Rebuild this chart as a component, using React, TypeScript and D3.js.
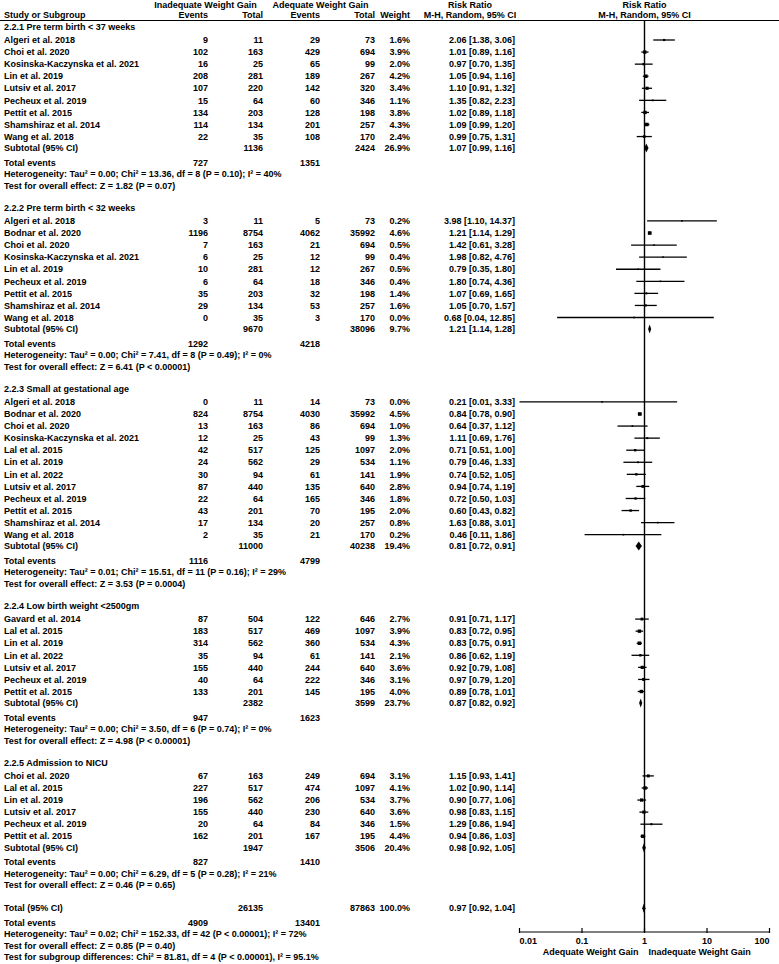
import React from 'react';
import * as d3 from 'd3';

// [study, events IWG, total IWG, events AWG, total AWG, weight %, RR, lower, upper]
type Row = [string, number, number, number, number, number, number, number, number];

const groupTitles = [
  '2.2.1 Pre term birth < 37 weeks',
  '2.2.2 Pre term birth < 32 weeks',
  '2.2.3 Small at gestational age',
  '2.2.4 Low birth weight <2500gm',
  '2.2.5 Admission to NICU',
];

const g1Rows: Row[] = [
  ['Algeri et al. 2018', 9, 11, 29, 73, 1.6, 2.06, 1.38, 3.06],
  ['Choi et al. 2020', 102, 163, 429, 694, 3.9, 1.01, 0.89, 1.16],
  ['Kosinska-Kaczynska et al. 2021', 16, 25, 65, 99, 2.0, 0.97, 0.70, 1.35],
  ['Lin et al. 2019', 208, 281, 189, 267, 4.2, 1.05, 0.94, 1.16],
  ['Lutsiv et al. 2017', 107, 220, 142, 320, 3.4, 1.10, 0.91, 1.32],
  ['Pecheux et al. 2019', 15, 64, 60, 346, 1.1, 1.35, 0.82, 2.23],
  ['Pettit et al. 2015', 134, 203, 128, 198, 3.8, 1.02, 0.89, 1.18],
  ['Shamshiraz et al. 2014', 114, 134, 201, 257, 4.3, 1.09, 0.99, 1.20],
  ['Wang et al. 2018', 22, 35, 108, 170, 2.4, 0.99, 0.75, 1.31],
];

const g2Rows: Row[] = [
  ['Algeri et al. 2018', 3, 11, 5, 73, 0.2, 3.98, 1.10, 14.37],
  ['Bodnar et al. 2020', 1196, 8754, 4062, 35992, 4.6, 1.21, 1.14, 1.29],
  ['Choi et al. 2020', 7, 163, 21, 694, 0.5, 1.42, 0.61, 3.28],
  ['Kosinska-Kaczynska et al. 2021', 6, 25, 12, 99, 0.4, 1.98, 0.82, 4.76],
  ['Lin et al. 2019', 10, 281, 12, 267, 0.5, 0.79, 0.35, 1.80],
  ['Pecheux et al. 2019', 6, 64, 18, 346, 0.4, 1.80, 0.74, 4.36],
  ['Pettit et al. 2015', 35, 203, 32, 198, 1.4, 1.07, 0.69, 1.65],
  ['Shamshiraz et al. 2014', 29, 134, 53, 257, 1.6, 1.05, 0.70, 1.57],
  ['Wang et al. 2018', 0, 35, 3, 170, 0.0, 0.68, 0.04, 12.85],
];

const g3Rows: Row[] = [
  ['Algeri et al. 2018', 0, 11, 14, 73, 0.0, 0.21, 0.01, 3.33],
  ['Bodnar et al. 2020', 824, 8754, 4030, 35992, 4.5, 0.84, 0.78, 0.90],
  ['Choi et al. 2020', 13, 163, 86, 694, 1.0, 0.64, 0.37, 1.12],
  ['Kosinska-Kaczynska et al. 2021', 12, 25, 43, 99, 1.3, 1.11, 0.69, 1.76],
  ['Lal et al. 2015', 42, 517, 125, 1097, 2.0, 0.71, 0.51, 1.00],
  ['Lin et al. 2019', 24, 562, 29, 534, 1.1, 0.79, 0.46, 1.33],
  ['Lin et al. 2022', 30, 94, 61, 141, 1.9, 0.74, 0.52, 1.05],
  ['Lutsiv et al. 2017', 87, 440, 135, 640, 2.8, 0.94, 0.74, 1.19],
  ['Pecheux et al. 2019', 22, 64, 165, 346, 1.8, 0.72, 0.50, 1.03],
  ['Pettit et al. 2015', 43, 201, 70, 195, 2.0, 0.60, 0.43, 0.82],
  ['Shamshiraz et al. 2014', 17, 134, 20, 257, 0.8, 1.63, 0.88, 3.01],
  ['Wang et al. 2018', 2, 35, 21, 170, 0.2, 0.46, 0.11, 1.86],
];

const g4Rows: Row[] = [
  ['Gavard et al. 2014', 87, 504, 122, 646, 2.7, 0.91, 0.71, 1.17],
  ['Lal et al. 2015', 183, 517, 469, 1097, 3.9, 0.83, 0.72, 0.95],
  ['Lin et al. 2019', 314, 562, 360, 534, 4.3, 0.83, 0.75, 0.91],
  ['Lin et al. 2022', 35, 94, 61, 141, 2.1, 0.86, 0.62, 1.19],
  ['Lutsiv et al. 2017', 155, 440, 244, 640, 3.6, 0.92, 0.79, 1.08],
  ['Pecheux et al. 2019', 40, 64, 222, 346, 3.1, 0.97, 0.79, 1.20],
  ['Pettit et al. 2015', 133, 201, 145, 195, 4.0, 0.89, 0.78, 1.01],
];

const g5Rows: Row[] = [
  ['Choi et al. 2020', 67, 163, 249, 694, 3.1, 1.15, 0.93, 1.41],
  ['Lal et al. 2015', 227, 517, 474, 1097, 4.1, 1.02, 0.90, 1.14],
  ['Lin et al. 2019', 196, 562, 206, 534, 3.7, 0.90, 0.77, 1.06],
  ['Lutsiv et al. 2017', 155, 440, 230, 640, 3.6, 0.98, 0.83, 1.15],
  ['Pecheux et al. 2019', 20, 64, 84, 346, 1.5, 1.29, 0.86, 1.94],
  ['Pettit et al. 2015', 162, 201, 167, 195, 4.4, 0.94, 0.86, 1.03],
];

const groupRows = [g1Rows, g2Rows, g3Rows, g4Rows, g5Rows];

// [total IWG, total AWG, weight, RR, lower, upper]
const subtotals = [
  [1136, 2424, 26.9, 1.07, 0.99, 1.16],
  [9670, 38096, 9.7, 1.21, 1.14, 1.28],
  [11000, 40238, 19.4, 0.81, 0.72, 0.91],
  [2382, 3599, 23.7, 0.87, 0.82, 0.92],
  [1947, 3506, 20.4, 0.98, 0.92, 1.05],
];

const totalEvents = [
  [727, 1351],
  [1292, 4218],
  [1116, 4799],
  [947, 1623],
  [827, 1410],
];

const hetTexts = [
  'Heterogeneity: Tau² = 0.00; Chi² = 13.36, df = 8 (P = 0.10); I² = 40%',
  'Heterogeneity: Tau² = 0.00; Chi² = 7.41, df = 8 (P = 0.49); I² = 0%',
  'Heterogeneity: Tau² = 0.01; Chi² = 15.51, df = 11 (P = 0.16); I² = 29%',
  'Heterogeneity: Tau² = 0.00; Chi² = 3.50, df = 6 (P = 0.74); I² = 0%',
  'Heterogeneity: Tau² = 0.00; Chi² = 6.29, df = 5 (P = 0.28); I² = 21%',
];

const effectTexts = [
  'Test for overall effect: Z = 1.82 (P = 0.07)',
  'Test for overall effect: Z = 6.41 (P < 0.00001)',
  'Test for overall effect: Z = 3.53 (P = 0.0004)',
  'Test for overall effect: Z = 4.98 (P < 0.00001)',
  'Test for overall effect: Z = 0.46 (P = 0.65)',
];

const overall = [26135, 87863, 100.0, 0.97, 0.92, 1.04];
const overallEvents = [4909, 13401];
const overallHet = 'Heterogeneity: Tau² = 0.02; Chi² = 152.33, df = 42 (P < 0.00001); I² = 72%';
const overallEffect = 'Test for overall effect: Z = 0.85 (P = 0.40)';
const subgroupTest = 'Test for subgroup differences: Chi² = 81.81, df = 4 (P < 0.00001), I² = 95.1%';

const axisTicks = [0.01, 0.1, 1, 10, 100];

const W = 779;
const H = 964;
const FS = 9;
const FONT = '"Liberation Sans", Arial, sans-serif';

const colE1 = 208;
const colN1 = 263;
const colE2 = 320;
const colN2 = 375;
const colW = 410;
const colCI = 515;
const axisY = 932;

const fmtCI = (rr: number, lo: number, hi: number) =>
  `${rr.toFixed(2)} [${lo.toFixed(2)}, ${hi.toFixed(2)}]`;

const T = ({ x, y, children, anchor = 'start' }: any) => (
  <text x={x} y={y + 3.2} textAnchor={anchor}>{children}</text>
);

export default function App() {
  const x = d3.scaleLog().domain([0.01, 100]).range([519.5, 769.5]);
  const cx = (v: number) => x(Math.min(100, Math.max(0.01, v)));

  const items: JSX.Element[] = [];
  const marks: JSX.Element[] = [];

  const diamond = (key: string, y: number, rr: number, lo: number, hi: number) => (
    <path
      key={key}
      d={`M${cx(lo)},${y}L${cx(rr)},${y - 4.5}L${cx(hi)},${y}L${cx(rr)},${y + 4.5}Z`}
      fill="#000"
    />
  );

  let y = 26.7;
  groupRows.forEach((rows, gi) => {
    items.push(<T key={`t${gi}`} x={4} y={y}>{groupTitles[gi]}</T>);
    y += 13.3;
    rows.forEach((r, ri) => {
      const [name, e1, n1, e2, n2, w, rr, lo, hi] = r;
      const k = `${gi}-${ri}`;
      items.push(
        <g key={`r${k}`}>
          <T x={4} y={y}>{name}</T>
          <T x={colE1} y={y} anchor="end">{e1}</T>
          <T x={colN1} y={y} anchor="end">{n1}</T>
          <T x={colE2} y={y} anchor="end">{e2}</T>
          <T x={colN2} y={y} anchor="end">{n2}</T>
          <T x={colW} y={y} anchor="end">{w.toFixed(1) + '%'}</T>
          <T x={colCI} y={y} anchor="end">{fmtCI(rr, lo, hi)}</T>
        </g>
      );
      const s = Math.max(1.6, Math.sqrt(w) * 1.7);
      marks.push(
        <g key={`m${k}`}>
          <line x1={cx(lo)} x2={cx(hi)} y1={y} y2={y} stroke="#000" strokeWidth={1.3} />
          <rect x={cx(rr) - s / 2} y={y - s / 2} width={s} height={s} fill="#000" />
        </g>
      );
      if (ri < rows.length - 1) y += 12.07;
    });
    y += 11.4;
    const [sn1, sn2, sw, srr, slo, shi] = subtotals[gi];
    items.push(
      <g key={`s${gi}`}>
        <T x={4} y={y}>Subtotal (95% CI)</T>
        <T x={colN1} y={y} anchor="end">{sn1}</T>
        <T x={colN2} y={y} anchor="end">{sn2}</T>
        <T x={colW} y={y} anchor="end">{sw.toFixed(1) + '%'}</T>
        <T x={colCI} y={y} anchor="end">{fmtCI(srr, slo, shi)}</T>
      </g>
    );
    marks.push(diamond(`d${gi}`, y, srr, slo, shi));
    y += 14.5;
    items.push(
      <g key={`e${gi}`}>
        <T x={4} y={y}>Total events</T>
        <T x={colE1} y={y} anchor="end">{totalEvents[gi][0]}</T>
        <T x={colE2} y={y} anchor="end">{totalEvents[gi][1]}</T>
      </g>
    );
    y += 11.5;
    items.push(<T key={`h${gi}`} x={4} y={y}>{hetTexts[gi]}</T>);
    y += 11.5;
    items.push(<T key={`z${gi}`} x={4} y={y}>{effectTexts[gi]}</T>);
    y += gi < groupRows.length - 1 ? 22.2 : 23;
  });

  // overall
  items.push(
    <g key="tot">
      <T x={4} y={y}>Total (95% CI)</T>
      <T x={colN1} y={y} anchor="end">{overall[0]}</T>
      <T x={colN2} y={y} anchor="end">{overall[1]}</T>
      <T x={colW} y={y} anchor="end">{overall[2].toFixed(1) + '%'}</T>
      <T x={colCI} y={y} anchor="end">{fmtCI(overall[3], overall[4], overall[5])}</T>
    </g>
  );
  marks.push(diamond('dtot', y, overall[3], overall[4], overall[5]));
  y += 14.5;
  items.push(
    <g key="tote">
      <T x={4} y={y}>Total events</T>
      <T x={colE1} y={y} anchor="end">{overallEvents[0]}</T>
      <T x={colE2} y={y} anchor="end">{overallEvents[1]}</T>
    </g>
  );
  y += 11.5;
  items.push(<T key="toth" x={4} y={y}>{overallHet}</T>);
  y += 11.5;
  items.push(<T key="totz" x={4} y={y}>{overallEffect}</T>);
  y += 11.5;
  items.push(<T key="tots" x={4} y={y}>{subgroupTest}</T>);

  const x1 = x(1);

  return (
    <svg
      width={W}
      height={H}
      style={{ position: 'absolute', left: 0, top: 0, background: '#fff' }}
      fontFamily={FONT}
      fontSize={FS}
      fontWeight="bold"
      fill="#000"
    >
      {/* header */}
      <T x={205.5} y={4.8} anchor="middle">Inadequate Weight Gain</T>
      <T x={320.5} y={4.8} anchor="middle">Adequate Weight Gain</T>
      <T x={470} y={4.8} anchor="middle">Risk Ratio</T>
      <T x={x1} y={4.8} anchor="middle">Risk Ratio</T>
      <T x={4} y={14.8}>Study or Subgroup</T>
      <T x={colE1} y={14.8} anchor="end">Events</T>
      <T x={colN1} y={14.8} anchor="end">Total</T>
      <T x={colE2} y={14.8} anchor="end">Events</T>
      <T x={colN2} y={14.8} anchor="end">Total</T>
      <T x={colW} y={14.8} anchor="end">Weight</T>
      <T x={470} y={14.8} anchor="middle">M-H, Random, 95% CI</T>
      <T x={x1} y={14.8} anchor="middle">M-H, Random, 95% CI</T>
      <line x1={0} x2={W} y1={20.5} y2={20.5} stroke="#000" strokeWidth={1} />

      {items}

      {/* null line */}
      <line x1={x1} x2={x1} y1={20.5} y2={axisY} stroke="#000" strokeWidth={1.4} />
      {marks}

      {/* axis */}
      <line x1={x(0.01)} x2={x(100)} y1={axisY} y2={axisY} stroke="#000" strokeWidth={1.2} />
      {axisTicks.map((t, i) => (
        <g key={`tk${i}`}>
          <line x1={x(t)} x2={x(t)} y1={axisY - 4} y2={axisY + 1} stroke="#000" strokeWidth={1.2} />
          <T
            x={x(t)}
            y={941}
            anchor={i === 0 ? 'start' : i === axisTicks.length - 1 ? 'end' : 'middle'}
          >
            {String(t)}
          </T>
        </g>
      ))}
      <T x={x1 - 6} y={952} anchor="end">Adequate Weight Gain</T>
      <T x={x1 + 4} y={952}>Inadequate Weight Gain</T>
    </svg>
  );
}
